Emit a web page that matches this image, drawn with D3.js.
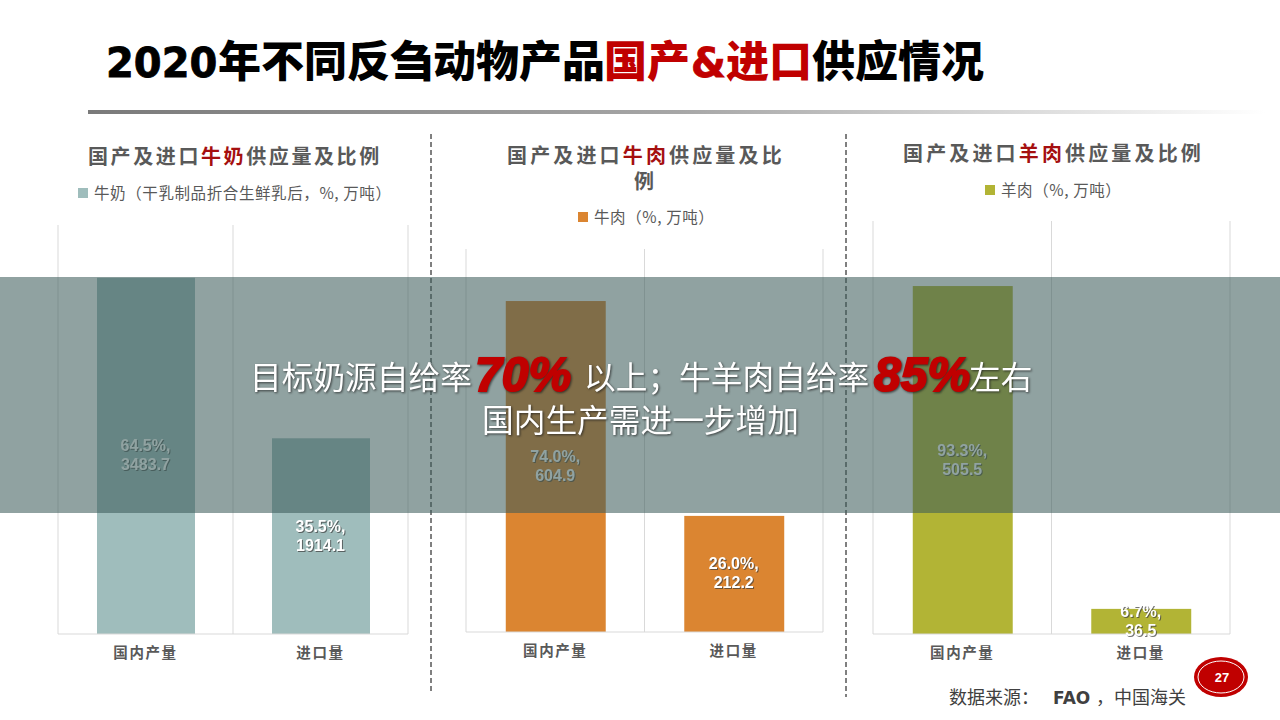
<!DOCTYPE html>
<html>
<head>
<meta charset="utf-8">
<script src="https://cdn.jsdelivr.net/npm/d3@7"></script>
<style>
    html, body { margin: 0; padding: 0; background: #fff; }
    svg { display: block; }
    text { font-family: "Noto Sans CJK SC", "Liberation Sans", sans-serif; }
</style>
</head>
<body>
<div id="chart"></div>
<script>
// values
const categories = ["国内产量", "进口量"];
const milkTons = [3483.7, 1914.1];
const milkShares = ["64.5%", "35.5%"];
const beefTons = [604.9, 212.2];
const beefShares = ["74.0%", "26.0%"];
const muttonTons = [505.5, 36.5];
const muttonShares = ["93.3%", "6.7%"];
const milkMax = 4000, beefMax = 700, muttonMax = 600;

const milkTitle = [["国产及进口", "#595959"], ["牛奶", "#a50f0f"], ["供应量及比例", "#595959"]];
const beefTitle = [["国产及进口", "#595959"], ["牛肉", "#a50f0f"], ["供应量及比", "#595959"]];
const muttonTitle = [["国产及进口", "#595959"], ["羊肉", "#a50f0f"], ["供应量及比例", "#595959"]];

// full-width punctuation, written as escapes so it stays full width
const LP = "\uFF08", RP = "\uFF09", COMMA = "\uFF0C", COLON = "\uFF1A", SEMI = "\uFF1B";

const width = 1280, height = 720;

let svg = d3.select("#chart").append("svg")
    .attr("width", width)
    .attr("height", height);

let defs = svg.append("defs");
let rule = defs.append("linearGradient").attr("id", "rule");
rule.append("stop").attr("offset", "0").attr("stop-color", "#7a7a7a");
rule.append("stop").attr("offset", "0.5").attr("stop-color", "#a6a6a6");
rule.append("stop").attr("offset", "1").attr("stop-color", "#fff");

// header, latin runs are a wider face than the CJK ones
let title = svg.append("text")
    .attr("y", 77)
    .style("font-size", "43px")
    .style("font-weight", 900);
function titleRun(x, str, color, latin) {
    let t = title.append("tspan").attr("x", x).attr("fill", color).text(str);
    if (latin) {
        t.style("font-family", '"DejaVu Sans"')
            .style("font-size", "40px")
            .style("font-weight", 700)
            .attr("stroke", color)
            .attr("stroke-width", 0.8);
    }
}
titleRun(106, "2020", "#000", true);
titleRun(218, "年不同反刍动物产品", "#000");
titleRun(604, "国产", "#c00000");
titleRun(691, "&", "#c00000", true);
titleRun(726, "进口", "#c00000");
titleRun(812, "供应情况", "#000");

svg.append("rect")
    .attr("x", 88).attr("y", 110)
    .attr("width", 1177).attr("height", 4)
    .attr("fill", "url(#rule)");

// dashed separators
[[431, 134, 692], [846, 134, 697]].forEach(d => {
    svg.append("line")
        .attr("x1", d[0]).attr("x2", d[0])
        .attr("y1", d[1]).attr("y2", d[2])
        .attr("stroke", "#000")
        .attr("stroke-dasharray", "5 3");
});

function drawPanel(o) {
    let x = d3.scaleBand().domain(categories).range([o.left, o.right]).paddingInner(0.44).paddingOuter(0.22);
    let y = d3.scaleLinear().domain([0, o.max]).range([o.bottom, o.top]);
    let g = svg.append("g");

    // chart title
    let head = g.append("text")
        .attr("x", o.titleX).attr("y", o.titleY)
        .style("font-size", "20px")
        .style("font-weight", 700)
        .style("letter-spacing", o.titleSpacing + "px");
    o.title.forEach(p => head.append("tspan").attr("fill", p[1]).text(p[0]));
    if (o.titleWrap) {
        g.append("text")
            .attr("x", o.titleWrapX).attr("y", o.titleY + 26)
            .attr("fill", "#595959")
            .style("font-size", "20px")
            .style("font-weight", 700)
            .text(o.titleWrap);
    }

    // legend
    g.append("rect")
        .attr("x", o.legendX).attr("y", o.legendY - 11)
        .attr("width", 10).attr("height", 10)
        .attr("fill", o.color);
    g.append("text")
        .attr("x", o.legendX + 16).attr("y", o.legendY)
        .attr("fill", "#595959")
        .style("font-size", "15.5px")
        .style("letter-spacing", "0.6px")
        .text(o.legend);

    // gridlines on the band edges
    let edges = [o.left, (o.left + o.right) / 2, o.right];
    g.selectAll(".edge").data(edges).enter().append("line")
        .attr("class", "edge")
        .attr("x1", d => d).attr("x2", d => d)
        .attr("y1", y(o.max)).attr("y2", y(0))
        .attr("stroke", "#d9d9d9");

    g.selectAll(".bar").data(o.values).enter().append("rect")
        .attr("class", "bar")
        .attr("x", (d, i) => x(categories[i]) + 0.5)
        .attr("y", d => y(d))
        .attr("width", x.bandwidth())
        .attr("height", d => y(0) - y(d))
        .attr("fill", o.color);

    let axis = g.append("g")
        .attr("transform", `translate(0,${o.bottom})`)
        .call(d3.axisBottom(x).tickSize(0).tickPadding(14));
    axis.select(".domain").attr("stroke", "#d9d9d9").attr("d", `M${o.left},0H${o.right}`);
    axis.selectAll("text")
        .attr("fill", "#595959")
        .style("font-family", '"Noto Sans CJK SC"')
        .style("font-size", "14.5px")
        .style("font-weight", 700)
        .style("letter-spacing", "1.6px");

    // labels in the middle of each bar
    let labels = g.selectAll(".value").data(o.values).enter().append("text")
        .attr("class", "value")
        .attr("text-anchor", "middle")
        .attr("fill", "#fff")
        .style("font-family", '"Liberation Sans"')
        .style("font-size", "16px")
        .style("font-weight", 700)
        .style("filter", "drop-shadow(1px 1px 0.5px rgba(60,60,60,0.7))");
    labels.each(function(d, i) {
        let cx = x(categories[i]) + x.bandwidth() / 2;
        let cy = (y(d) + y(0)) / 2;
        let t = d3.select(this);
        t.append("tspan").attr("x", cx).attr("y", cy - 4.5).text(o.shares[i] + ",");
        t.append("tspan").attr("x", cx).attr("y", cy + 14.5).text(d);
    });
}

drawPanel({
    values: milkTons, shares: milkShares, max: milkMax, color: "#9fbdbc",
    left: 58, right: 408, top: 225, bottom: 634,
    title: milkTitle, titleX: 88, titleY: 164, titleSpacing: 2.6,
    legend: "牛奶" + LP + "干乳制品折合生鲜乳后" + COMMA + "%, 万吨" + RP, legendX: 78, legendY: 199
});
drawPanel({
    values: beefTons, shares: beefShares, max: beefMax, color: "#db8531",
    left: 466, right: 823, top: 249, bottom: 632,
    title: beefTitle, titleX: 507, titleY: 163, titleSpacing: 3.15, titleWrap: "例", titleWrapX: 634,
    legend: "牛肉" + LP + "%, 万吨" + RP, legendX: 578, legendY: 223
});
drawPanel({
    values: muttonTons, shares: muttonShares, max: muttonMax, color: "#b2b435",
    left: 873, right: 1230, top: 221, bottom: 634,
    title: muttonTitle, titleX: 903, titleY: 161, titleSpacing: 3.15,
    legend: "羊肉" + LP + "%, 万吨" + RP, legendX: 985, legendY: 196
});

// page badge and source
svg.append("ellipse").attr("cx", 1221).attr("cy", 677).attr("rx", 27).attr("ry", 20).attr("fill", "#c00000");
svg.append("ellipse").attr("cx", 1221).attr("cy", 677).attr("rx", 23).attr("ry", 16)
    .attr("fill", "none").attr("stroke", "#fff");
svg.append("text")
    .attr("x", 1222).attr("y", 682)
    .attr("text-anchor", "middle")
    .attr("fill", "#fff")
    .style("font-family", '"Liberation Sans"')
    .style("font-size", "13px")
    .style("font-weight", 700)
    .text("27");

let source = svg.append("text")
    .attr("x", 949).attr("y", 704)
    .attr("fill", "#404040")
    .style("font-size", "18px");
source.append("tspan").text("数据来源" + COLON);
source.append("tspan").attr("x", 1053)
    .style("font-family", '"DejaVu Sans"')
    .style("font-size", "17px")
    .style("font-weight", 700)
    .text("FAO");
source.append("tspan").attr("x", 1096).text(COMMA + "中国海关");

// overlay band with the message
svg.append("rect")
    .attr("x", 0).attr("y", 277)
    .attr("width", width).attr("height", 236)
    .attr("fill", "rgb(60,91,90)")
    .attr("fill-opacity", 0.57);

let message = svg.append("g")
    .style("filter", "drop-shadow(1px 1px 1px rgba(30,30,30,0.75))");

function whiteRun(x, y, str) {
    message.append("text")
        .attr("x", x).attr("y", y)
        .attr("fill", "#fff")
        .style("font-size", "31.7px")
        .style("font-weight", 400)
        .text(str);
}
function redRun(x, y, str) {
    message.append("text")
        .attr("x", x).attr("y", y)
        .attr("fill", "#c00000")
        .attr("stroke", "#c00000")
        .attr("stroke-width", 2)
        .style("font-family", '"Liberation Sans"')
        .style("font-size", "48px")
        .style("font-weight", 700)
        .style("font-style", "italic")
        .text(str);
}
whiteRun(250, 389, "目标奶源自给率");
redRun(475, 391, "70%");
whiteRun(584, 389, "以上" + SEMI + "牛羊肉自给率");
redRun(874, 391, "85%");
whiteRun(969, 389, "左右");
whiteRun(482, 432, "国内生产需进一步增加");
</script>
</body>
</html>
